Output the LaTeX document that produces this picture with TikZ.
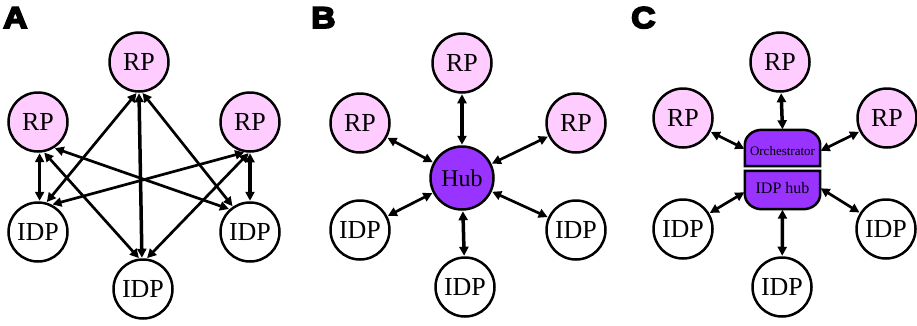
\documentclass[tikz,border=0pt]{standalone}
\usepackage{fontspec}
\setmainfont{Liberation Serif}
\newfontfamily\labelfont[FakeBold=6,FakeStretch=1.12]{Liberation Sans Bold}
\usetikzlibrary{arrows.meta}
\definecolor{rppink}{HTML}{FFCCFF}
\definecolor{hubpurple}{HTML}{9933FF}
\tikzset{
  party/.style={circle, draw=black, line width=2.5pt, minimum size=59pt, inner sep=0pt, font=\fontsize{26}{26}\selectfont},
  rp/.style={party, fill=rppink},
  idp/.style={party, fill=white},
  hubnode/.style={circle, draw=black, line width=2.5pt, fill=hubpurple, minimum size=63pt, inner sep=0pt, font=\fontsize{24}{24}\selectfont},
  boxnode/.style={rectangle, minimum width=75pt, inner sep=0pt},
  link/.style={line width=2.7pt, {Triangle[length=9pt,width=9pt]}-{Triangle[length=9pt,width=9pt]}, shorten <=0.5pt, shorten >=0.5pt},
  vlink/.style={link, line width=3.5pt},
  panellabel/.style={anchor=base west, inner sep=0pt, font=\labelfont\fontsize{30}{30}\selectfont}
}
\begin{document}
\begin{tikzpicture}[x=1pt, y=-1pt]
\useasboundingbox (0,0) rectangle (917,325);
% labels
\node[panellabel] (labA) at (3,28) {A};
\node[panellabel] (labB) at (311,28) {B};
\node[panellabel] (labC) at (631,28) {C};
% ---------------- Panel A
\node[rp] (aT) at (139,62) {RP};
\node[rp] (aL) at (38,122) {RP};
\node[rp] (aR) at (250,122) {RP};
\node[idp] (aIL) at (38,232) {IDP};
\node[idp] (aIR) at (250,232) {IDP};
\node[idp] (aIB) at (143,289) {IDP};
\draw[link] (aT.-94) -- (aIL.74);
\draw[vlink] (aT.-90) -- (aIB.92);
\draw[link] (aT.-84) -- (aIR.124);
\draw[vlink] (aL.-87) -- (aIL.87);
\draw[link] (aL.-79) -- (aIB.97);
\draw[link] (aL.-58) -- (aIR.132);
\draw[link] (aR.-100) -- (aIL.63);
\draw[link] (aR.-92) -- (aIB.83);
\draw[vlink] (aR.-90) -- (aIR.90);
% ---------------- Panel B
\node[rp] (bT) at (462,63) {RP};
\node[rp] (bL) at (360,123) {RP};
\node[rp] (bR) at (576,123) {RP};
\node[hubnode] (hub) at (462,178) {Hub};
\node[idp] (bIL) at (360,230) {IDP};
\node[idp] (bIR) at (576,230) {IDP};
\node[idp] (bIB) at (465,287) {IDP};
\draw[vlink] (bT) -- (hub);
\draw[link] (bL) -- (hub);
\draw[link] (bR) -- (hub);
\draw[link] (bIL) -- (hub);
\draw[link] (bIR) -- (hub);
\draw[vlink] (bIB) -- (hub);
% ---------------- Panel C
\node[rp] (cT) at (780,62) {RP};
\node[rp] (cL) at (683,118) {RP};
\node[rp] (cR) at (887,118) {RP};
\node[idp] (cIL) at (683,229) {IDP};
\node[idp] (cIR) at (886,229) {IDP};
\node[idp] (cIB) at (782,287) {IDP};
\node[boxnode, minimum height=36pt] (orch) at (782.5,148) {};
\node[boxnode, minimum height=38pt] (idph) at (782.5,190) {};
\draw[line width=2.5pt, fill=hubpurple]
  (orch.south west) -- ([yshift=-15pt]orch.north west)
  arc[start angle=180, end angle=90, x radius=17pt, y radius=15pt]
  -- ([xshift=-17pt]orch.north east)
  arc[start angle=90, end angle=0, x radius=17pt, y radius=15pt]
  -- (orch.south east) -- cycle;
\draw[line width=2.5pt, fill=hubpurple]
  (idph.north west) -- ([yshift=15pt]idph.south west)
  arc[start angle=180, end angle=270, x radius=17pt, y radius=15pt]
  -- ([xshift=-17pt]idph.south east)
  arc[start angle=270, end angle=360, x radius=17pt, y radius=15pt]
  -- (idph.north east) -- cycle;
\node[font=\fontsize{13}{13}\selectfont, inner sep=0pt] (orchtext) at ([yshift=-3pt]orch.center) {Orchestrator};
\node[font=\fontsize{16}{16}\selectfont, inner sep=0pt] (idphtext) at ([yshift=2pt]idph.center) {IDP hub};
\draw[vlink] (cT) -- (orch.north);
\draw[link] (cL) -- ([yshift=-1pt]orch.west);
\draw[link] (cR) -- ([yshift=-3pt]orch.east);
\draw[link] (cIL) -- ([yshift=-2pt]idph.west);
\draw[link] (cIR) -- ([yshift=2pt]idph.east);
\draw[vlink] (cIB) -- (idph.south);
\end{tikzpicture}
\end{document}
